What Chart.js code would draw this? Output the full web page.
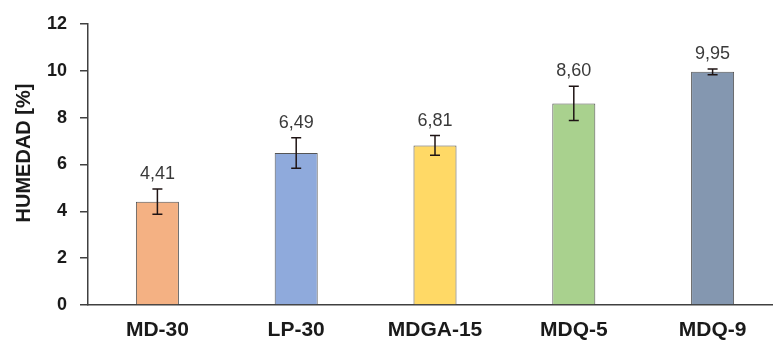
<!DOCTYPE html>
<html>
<head>
<meta charset="utf-8">
<script src="https://cdn.jsdelivr.net/npm/chart.js@4"></script>
<style>
html,body{margin:0;padding:0;background:#fff;overflow:hidden;}
#wrap{width:773px;height:341px;overflow:hidden;}
canvas{display:block;}
</style>
</head>
<body>
<div id="wrap"><canvas id="c" width="782" height="341"></canvas></div>
<script>
const categories = ['MD-30', 'LP-30', 'MDGA-15', 'MDQ-5', 'MDQ-9'];
const humedad = [4.41, 6.49, 6.81, 8.60, 9.95];
const errores = [0.54, 0.65, 0.42, 0.73, 0.12];
const valueLabels = ['4,41', '6,49', '6,81', '8,60', '9,95'];
const yMin = 0, yMax = 12, yStep = 2;
const yTitle = 'HUMEDAD [%]';
const barColors = ['#F4B183', '#8FAADC', '#FFD966', '#A9D18E', '#8497B0'];

const FONT = '"Liberation Sans", Arial, sans-serif';

const errorPlugin = {
  id: 'errorBars',
  afterDatasetsDraw(chart) {
    const ctx = chart.ctx;
    const xs = chart.scales.x, ys = chart.scales.y;
    ctx.save();
    humedad.forEach((v, i) => {
      const x = xs.getPixelForValue(i);
      const yt = ys.getPixelForValue(v + errores[i]);
      const yb = ys.getPixelForValue(v - errores[i]);
      ctx.strokeStyle = '#1f1414';
      ctx.lineWidth = 1.5;
      ctx.beginPath();
      ctx.moveTo(x, yt); ctx.lineTo(x, yb);
      ctx.moveTo(x - 5, yt); ctx.lineTo(x + 5, yt);
      ctx.moveTo(x - 5, yb); ctx.lineTo(x + 5, yb);
      ctx.stroke();
      ctx.fillStyle = '#3a3a3a';
      ctx.font = '18px ' + FONT;
      ctx.textAlign = 'center';
      ctx.textBaseline = 'alphabetic';
      ctx.fillText(valueLabels[i], x, yt - 10);
    });
    // y axis title
    ctx.translate(24, 153);
    ctx.rotate(-Math.PI / 2);
    ctx.fillStyle = '#1a1a1a';
    ctx.font = 'bold 20px ' + FONT;
    ctx.textAlign = 'center';
    ctx.textBaseline = 'middle';
    ctx.fillText(yTitle, 0, 0);
    ctx.restore();
  }
};

new Chart(document.getElementById('c'), {
  type: 'bar',
  data: {
    labels: categories,
    datasets: [{
      data: humedad,
      backgroundColor: barColors,
      borderColor: '#555555',
      borderWidth: 1,
      barPercentage: 0.31,
      categoryPercentage: 1
    }]
  },
  options: {
    responsive: false,
    animation: false,
    devicePixelRatio: 1,
    layout: { padding: { top: 19, left: 0, right: 0, bottom: 0 } },
    plugins: { legend: { display: false }, tooltip: { enabled: false } },
    scales: {
      x: {
        grid: { display: false },
        border: { display: true, color: '#404040', width: 1.5 },
        ticks: { color: '#1a1a1a', padding: 5, font: { family: FONT, size: 21, weight: 'bold' } },
        afterFit(s) { s.height = 36; }
      },
      y: {
        min: yMin, max: yMax,
        grid: { display: true, drawOnChartArea: false, drawTicks: true, tickLength: 8, color: '#404040', lineWidth: 1.5 },
        border: { display: true, color: '#404040', width: 1.5 },
        ticks: { stepSize: yStep, color: '#1a1a1a', padding: 13, font: { family: FONT, size: 18, weight: 'bold' } },
        afterFit(s) { s.width = 88; }
      }
    }
  },
  plugins: [errorPlugin]
});
</script>
</body>
</html>
